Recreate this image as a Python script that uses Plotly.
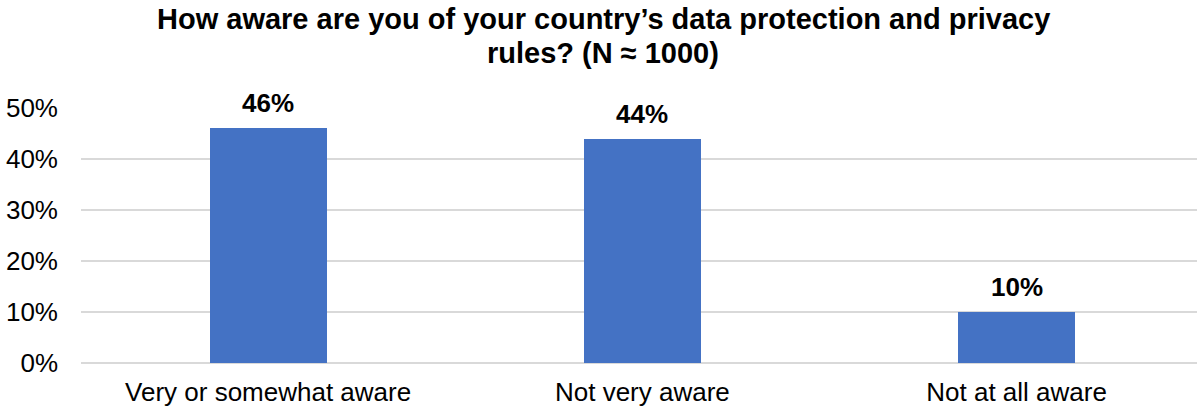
import plotly.graph_objects as go

categories = ["Very or somewhat aware", "Not very aware", "Not at all aware"]
shares = [46, 44, 10]
y_ticks = [0, 10, 20, 30, 40, 50]
y_tick_labels = ["0%", "10%", "20%", "30%", "40%", "50%"]
title_lines = [
    "How aware are you of your country’s data protection and privacy",
    "rules? (N ≈ 1000)",
]

BAR_BLUE = "#4472C4"
GRID = "#D9D9D9"
FONT = "Liberation Sans, Arial, sans-serif"

W, H = 1197, 410
M_L, M_R, M_T, M_B = 81, 0, 108, 47
plot_w = W - M_L - M_R
plot_h = H - M_T - M_B


def paper_x(px):
    return (px - M_L) / plot_w


def paper_y(py):
    return (H - M_B - py) / plot_h


fig = go.Figure()
fig.add_trace(go.Bar(
    x=categories,
    y=shares,
    marker=dict(color=BAR_BLUE, line=dict(width=0)),
    width=0.313,
    hoverinfo="skip",
))

# value labels above each bar
for cat, val in zip(categories, shares):
    fig.add_annotation(
        x=cat, y=val, text=f"<b>{val}%</b>",
        showarrow=False, yanchor="bottom", yshift=8,
        font=dict(family=FONT, size=26, color="#000000"),
    )

# two-line bold title, centred over the chart
for line, py in zip(title_lines, [19, 53]):
    fig.add_annotation(
        xref="paper", yref="paper",
        x=paper_x(603), y=paper_y(py),
        xanchor="center", yanchor="middle",
        text=f"<b>{line}</b>", showarrow=False,
        font=dict(family=FONT, size=29, color="#000000"),
    )

fig.update_layout(
    width=W, height=H,
    margin=dict(l=M_L, r=M_R, t=M_T, b=M_B),
    paper_bgcolor="white", plot_bgcolor="white",
    showlegend=False,
    bargap=0,
)
fig.update_xaxes(
    range=[-0.5, 2.482],
    showgrid=False, showline=False, zeroline=False, ticks="",
    tickfont=dict(family=FONT, size=26, color="#000000"),
    ticklabelstandoff=11,
)
fig.update_yaxes(
    range=[0, 50],
    tickvals=y_ticks, ticktext=y_tick_labels,
    showgrid=True, gridcolor=GRID, gridwidth=1.5,
    zeroline=True, zerolinecolor=GRID, zerolinewidth=1.5,
    showline=False, ticks="",
    tickfont=dict(family=FONT, size=26, color="#000000"),
    ticklabelstandoff=22,
)

fig.write_html("out.html")
